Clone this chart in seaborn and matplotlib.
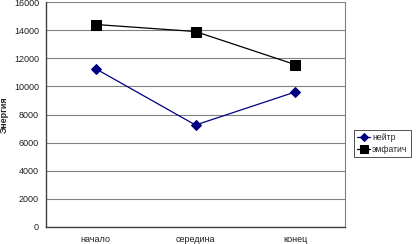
import matplotlib

matplotlib.use("Agg")
import matplotlib.pyplot as plt
import pandas as pd
import seaborn as sns

categories = ["начало", "середина", "конец"]
neutral = [11250, 7250, 9600]
emphatic = [14400, 13900, 11550]
series_names = ["нейтр", "эмфатич"]
y_ticks = list(range(0, 16001, 2000))

sns.set_theme(style="white")
plt.rcParams["font.family"] = ["Liberation Sans", "DejaVu Sans"]

data = pd.DataFrame(
    {
        "pos": list(range(len(categories))) * 2,
        "energy": neutral + emphatic,
        "series": [series_names[0]] * 3 + [series_names[1]] * 3,
    }
)

colors = {"нейтр": "#000080", "эмфатич": "#000000"}
sizes = {"нейтр": 5, "эмфатич": 7}

fig = plt.figure(figsize=(4.19, 2.44), dpi=100)
ax = fig.add_axes([46 / 419, 17 / 244, 299 / 419, 225 / 244])

sns.lineplot(
    data=data,
    x="pos",
    y="energy",
    hue="series",
    style="series",
    palette=colors,
    markers={"нейтр": "D", "эмфатич": "s"},
    dashes=False,
    linewidth=0.9,
    sort=False,
    legend=False,
    ax=ax,
)
for line, name in zip(ax.lines, series_names):
    line.set_markersize(sizes[name])
    line.set_markeredgecolor(colors[name])
    line.set_markerfacecolor(colors[name])
    line.set_label(name)

ax.set_xlim(-0.5, 2.5)
ax.set_ylim(0, 16000)
ax.set_yticks(y_ticks)
ax.set_yticklabels([str(t) for t in y_ticks], fontsize=6.5)
ax.set_xticks(range(len(categories)))
ax.set_xticklabels(categories, fontsize=6.5)
ax.set_xticks([-0.5, 0.5, 1.5, 2.5], minor=True)
ax.tick_params(axis="x", which="major", length=0, pad=6)
ax.tick_params(axis="x", which="minor", length=3, color="#404040", direction="in")
ax.tick_params(axis="y", length=3, color="#404040", pad=2, direction="out", labelcolor="#202020")
ax.tick_params(axis="x", labelcolor="#202020")
ax.yaxis.grid(True, color="#808080", linewidth=0.8)
ax.set_axisbelow(True)
ax.set_xlabel("")
ax.set_ylabel("Энергия", fontsize=6.5, fontweight="bold", labelpad=4)

for side in ["left", "bottom"]:
    ax.spines[side].set_color("#404040")
    ax.spines[side].set_linewidth(1)
ax.spines["top"].set_visible(False)
ax.spines["right"].set_color("#808080")
ax.spines["right"].set_linewidth(0.8)

ax.legend(
    loc="center left",
    bbox_to_anchor=(1.0, 0.37),
    fontsize=6.2,
    frameon=True,
    fancybox=False,
    edgecolor="#000000",
    handlelength=1.6,
    markerscale=0.75,
    borderpad=0.35,
    labelspacing=0.3,
    handletextpad=0.2,
    borderaxespad=1.0,
)
ax.get_legend().get_frame().set_linewidth(0.6)

fig.savefig("out.png", dpi=100)
